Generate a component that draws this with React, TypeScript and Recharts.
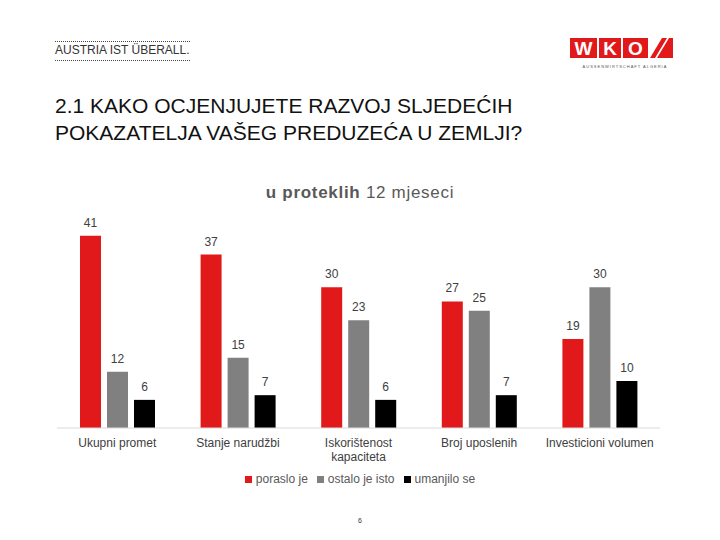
import React from 'react';
import { BarChart, Bar, XAxis, YAxis, LabelList } from 'recharts';

const categories = ['Ukupni promet', 'Stanje narudžbi', 'Iskorištenost kapaciteta', 'Broj uposlenih', 'Investicioni volumen'];
const poraslo = [41, 37, 30, 27, 19];
const ostalo = [12, 15, 23, 25, 30];
const umanjilo = [6, 7, 6, 7, 10];
const seriesNames = ['poraslo je', 'ostalo je isto', 'umanjilo se'];
const seriesColors = ['#e2191a', '#808080', '#000000'];

const data = categories.map((c, i) => ({ name: c, a: poraslo[i], b: ostalo[i], c: umanjilo[i] }));

const FONT = '"Liberation Sans", Arial, sans-serif';

const CatTick = (props: any) => {
  const { x, y, payload } = props;
  const txt: string = payload.value;
  const lines = txt.length > 21 ? txt.split(' ') : [txt];
  return (
    <g>
      {lines.map((l, i) => (
        <text key={i} x={x} y={y + 11 + i * 14} textAnchor="middle" fontSize={12} fill="#404040" fontFamily={FONT}>
          {l}
        </text>
      ))}
    </g>
  );
};

const LegendBox = () => (
  <div style={{ position: 'absolute', left: 0, width: 720, top: 472, display: 'flex', justifyContent: 'center', fontFamily: FONT, fontSize: 12, color: '#595959' }}>
    {seriesNames.map((n, i) => (
      <div key={n} style={{ display: 'flex', alignItems: 'center', marginRight: i < 2 ? 9 : 0 }}>
        <div style={{ width: 7, height: 7, background: seriesColors[i], marginRight: 4 }} />
        <span>{n}</span>
      </div>
    ))}
  </div>
);

const Header = () => (
  <>
    <svg style={{ position: 'absolute', left: 0, top: 0 }} width={720} height={70}>
      <line x1={55} y1={41.5} x2={191} y2={41.5} stroke="#444" strokeDasharray="1 1" />
      <line x1={55} y1={60.5} x2={191} y2={60.5} stroke="#444" strokeDasharray="1 1" />
    </svg>
    <div style={{ position: 'absolute', left: 55, top: 43, fontFamily: FONT, fontSize: 12, color: '#333' }}>
      AUSTRIA IST ÜBERALL.
    </div>
    <svg style={{ position: 'absolute', left: 565, top: 33 }} width={115} height={40}>
      <rect x={5} y={5} width={27} height={20} fill="#e2191a" />
      <rect x={34} y={5} width={22} height={20} fill="#e2191a" />
      <rect x={58} y={5} width={25} height={20} fill="#e2191a" />
      <text x={18.5} y={22} textAnchor="middle" fontSize={19} fontWeight="bold" fill="#fff" fontFamily={FONT}>W</text>
      <text x={45} y={22} textAnchor="middle" fontSize={19} fontWeight="bold" fill="#fff" fontFamily={FONT}>K</text>
      <text x={70.5} y={22} textAnchor="middle" fontSize={19} fontWeight="bold" fill="#fff" fontFamily={FONT}>O</text>
      <polygon points="85,25 97,5 102,5 90,25" fill="#e2191a" />
      <polygon points="92,25 104,5 108,5 108,25" fill="#e2191a" />
      <text x={60} y={35} textAnchor="middle" fontSize={4} fill="#555" fontFamily={FONT} letterSpacing={1}>AUSSENWIRTSCHAFT ALGERIA</text>
    </svg>
    <div style={{ position: 'absolute', left: 55, top: 92, fontFamily: FONT, fontSize: 21, color: '#111', lineHeight: '27px' }}>
      2.1 KAKO OCJENJUJETE RAZVOJ SLJEDEĆIH<br />POKAZATELJA VAŠEG PREDUZEĆA U ZEMLJI?
    </div>
    <div style={{ position: 'absolute', left: 0, width: 720, top: 183, textAlign: 'center', fontFamily: FONT, fontSize: 17, letterSpacing: 0.7, color: '#595959' }}>
      <b>u proteklih</b> 12 mjeseci
    </div>
    <div style={{ position: 'absolute', left: 0, width: 720, top: 517, textAlign: 'center', fontFamily: FONT, fontSize: 7, color: '#333' }}>6</div>
  </>
);

export default function App() {
  return (
    <div style={{ position: 'fixed', left: 0, top: 0, width: 720, height: 540, background: '#fff', overflow: 'hidden' }}>
      <Header />
      <div style={{ position: 'absolute', left: 0, top: 0 }}>
        <BarChart width={720} height={540} data={data} margin={{ top: 217, right: 60, bottom: 82, left: 57 }} barSize={21} barGap={6}>
          <XAxis dataKey="name" height={30} axisLine={{ stroke: '#d9d9d9' }} tickLine={false} tick={<CatTick />} interval={0} />
          <YAxis hide domain={[0, 45]} />
          <Bar dataKey="a" name={seriesNames[0]} fill={seriesColors[0]} isAnimationActive={false}>
            <LabelList dataKey="a" position="top" offset={9} fill="#404040" fontSize={12} fontFamily={FONT} />
          </Bar>
          <Bar dataKey="b" name={seriesNames[1]} fill={seriesColors[1]} isAnimationActive={false}>
            <LabelList dataKey="b" position="top" offset={9} fill="#404040" fontSize={12} fontFamily={FONT} />
          </Bar>
          <Bar dataKey="c" name={seriesNames[2]} fill={seriesColors[2]} isAnimationActive={false}>
            <LabelList dataKey="c" position="top" offset={9} fill="#404040" fontSize={12} fontFamily={FONT} />
          </Bar>
        </BarChart>
      </div>
      <LegendBox />
    </div>
  );
}
